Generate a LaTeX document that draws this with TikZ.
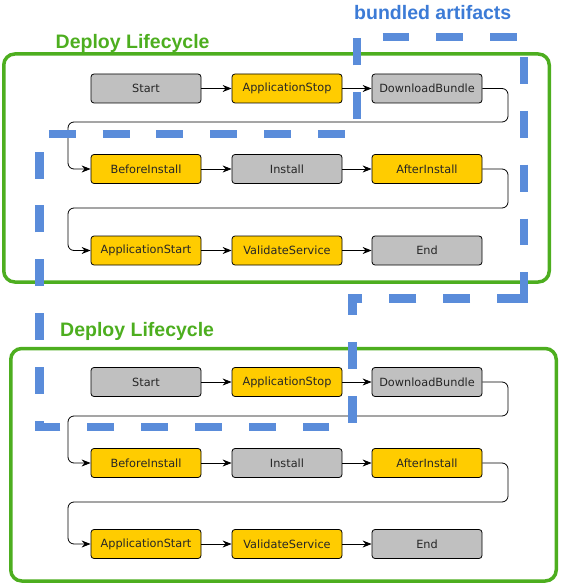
\documentclass[tikz,border=0pt]{standalone}
\usepackage{fontspec}
\setmainfont{DejaVu Sans}
\newfontfamily\titlefont{Liberation Sans}
\usetikzlibrary{arrows.meta}
\definecolor{lcgreen}{HTML}{4DAE1F}
\definecolor{lcblue}{HTML}{5A8CDA}
\definecolor{lctitleblue}{HTML}{3C7BD6}
\definecolor{boxyellow}{HTML}{FFCC00}
\definecolor{boxgray}{HTML}{C0C0C0}
\begin{document}
\begin{tikzpicture}[x=1pt,y=-1pt,
  stepbox/.style={draw=black, line width=0.8pt, rounded corners=3pt, minimum width=110pt, minimum height=29pt, inner sep=0pt, font=\fontsize{11.3}{13}\selectfont, text=black!85},
  ybox/.style={stepbox, fill=boxyellow},
  gbox/.style={stepbox, fill=boxgray},
  flow/.style={draw=black, line width=0.8pt, -{Stealth[length=9pt,width=7pt,inset=3pt]}},
  wrap/.style={flow, rounded corners=6pt},
  lifecycle/.style={draw=lcgreen, line width=3.5pt, rounded corners=11pt},
  ltitle/.style={font=\titlefont\bfseries\fontsize{19.5}{22}\selectfont, text=lcgreen, anchor=base west, inner sep=0pt},
  bundleline/.style={draw=lcblue, line width=8.5pt, line join=miter},
  bundle/.style={bundleline, dash pattern=on 26.92pt off 26.92pt}
]
\useasboundingbox (0,0) rectangle (560,585);

% titles
\node[ltitle] (t1) at (55.5,49) {Deploy Lifecycle};
\node[ltitle] (t2) at (60,336) {Deploy Lifecycle};
\node[ltitle, text=lctitleblue] (t3) at (354,19.5) {bundled artifacts};

% lifecycle frames
\draw[lifecycle] (3.75,54) rectangle (549.25,282);
\draw[lifecycle] (10.75,348.5) rectangle (556.25,581);

% ---------- upper lifecycle ----------
\node[gbox] (s1)  at (146,88.5) {Start};
\node[ybox] (as1) at (287,88.5) {ApplicationStop};
\node[gbox] (db1) at (427,88.5) {DownloadBundle};
\node[ybox] (bi1) at (146,169) {BeforeInstall};
\node[gbox] (in1) at (287,169) {Install};
\node[ybox] (ai1) at (427,169) {AfterInstall};
\node[ybox] (ap1) at (146,250.5) {ApplicationStart};
\node[ybox] (vs1) at (287,250.5) {ValidateService};
\node[gbox] (en1) at (427,250.5) {End};

\coordinate (r1a) at (508,122);
\coordinate (l1a) at (68,122);
\coordinate (r2a) at (508,208);
\coordinate (l2a) at (68,208);

\draw[flow] (s1.east) -- (as1.west);
\draw[flow] (as1.east) -- (db1.west);
\draw[wrap] (db1.east) -| (r1a) -- (l1a) |- (bi1.west);
\draw[flow] (bi1.east) -- (in1.west);
\draw[flow] (in1.east) -- (ai1.west);
\draw[wrap] (ai1.east) -| (r2a) -- (l2a) |- (ap1.west);
\draw[flow] (ap1.east) -- (vs1.west);
\draw[flow] (vs1.east) -- (en1.west);

% ---------- lower lifecycle ----------
\node[gbox] (s2)  at (146,382) {Start};
\node[ybox] (as2) at (287,382) {ApplicationStop};
\node[gbox] (db2) at (427,382) {DownloadBundle};
\node[ybox] (bi2) at (146,463) {BeforeInstall};
\node[gbox] (in2) at (287,463) {Install};
\node[ybox] (ai2) at (427,463) {AfterInstall};
\node[ybox] (ap2) at (146,544) {ApplicationStart};
\node[ybox] (vs2) at (287,544) {ValidateService};
\node[gbox] (en2) at (427,544) {End};

\coordinate (r1b) at (508,416);
\coordinate (l1b) at (68,416);
\coordinate (r2b) at (508,502);
\coordinate (l2b) at (68,502);

\draw[flow] (s2.east) -- (as2.west);
\draw[flow] (as2.east) -- (db2.west);
\draw[wrap] (db2.east) -| (r1b) -- (l1b) |- (bi2.west);
\draw[flow] (bi2.east) -- (in2.west);
\draw[flow] (in2.east) -- (ai2.west);
\draw[wrap] (ai2.east) -| (r2b) -- (l2b) |- (ap2.west);
\draw[flow] (ap2.east) -- (vs2.west);
\draw[flow] (vs2.east) -- (en2.west);

% bundled artifacts outline
\draw[bundle] (524,298.5) -- (352.5,298.5) -- (352.5,427) -- (39.5,427) -- (39.5,134) -- (357,134) -- (357,37) -- (524,37) -- (524,298.5);
\draw[bundleline] (524,288) -- (524,298.5) -- (512,298.5);
\end{tikzpicture}
\end{document}
